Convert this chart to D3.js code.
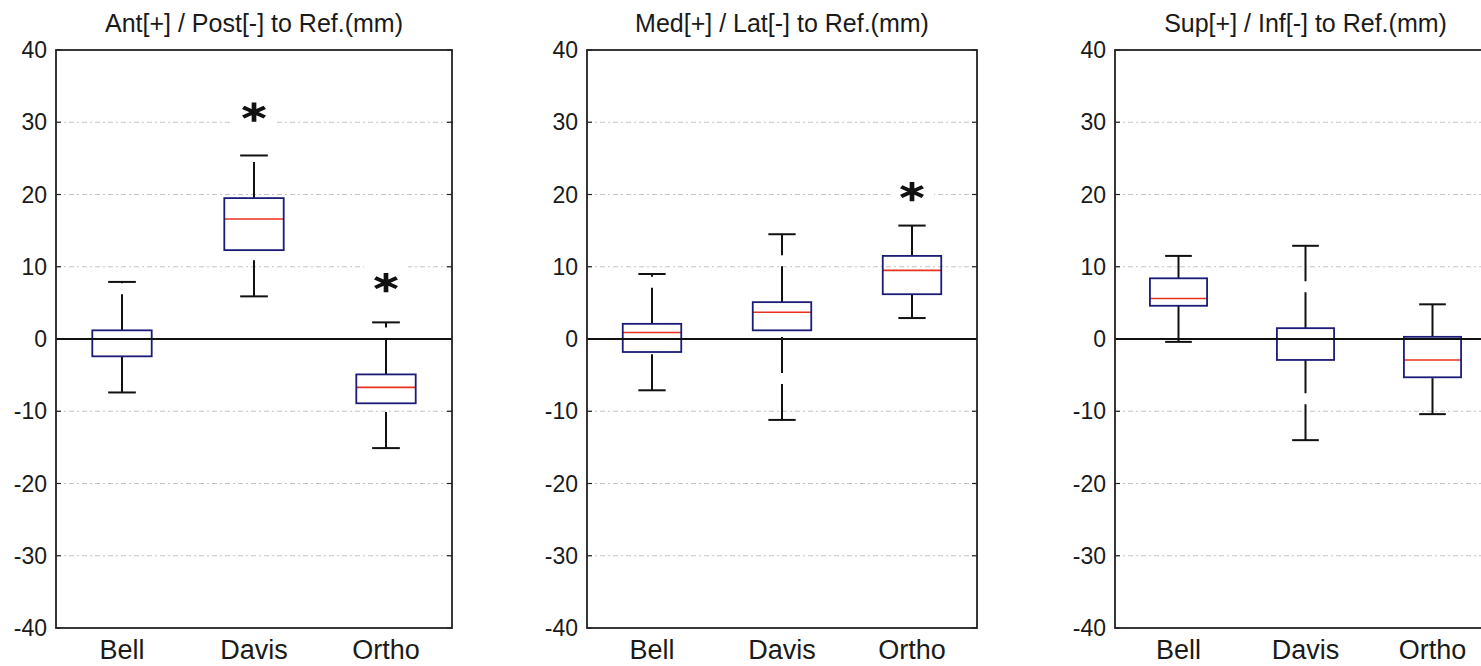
<!DOCTYPE html>
<html>
<head>
<meta charset="utf-8">
<script src="https://cdn.jsdelivr.net/npm/d3@7"></script>
<style>
  html, body { margin: 0; padding: 0; background: #fff; overflow: hidden; }
  svg { display: block; }
  text { font-family: "Liberation Sans", Arial, sans-serif; fill: #1a1a1a; }
</style>
</head>
<body>
<svg id="chart" width="1481" height="666"></svg>
<script>
// ---------- data ----------
const categories = ["Bell", "Davis", "Ortho"];
const panelTitles = ["Ant[+] / Post[-] to Ref.(mm)", "Med[+] / Lat[-] to Ref.(mm)", "Sup[+] / Inf[-] to Ref.(mm)"];
const yTicks = [-40, -30, -20, -10, 0, 10, 20, 30, 40];
const gridTicks = [-30, -20, -10, 10, 20, 30];

// Panel 1: Ant/Post
const apLower  = [-7.4,  5.9, -15.1];
const apQ1     = [-2.4, 12.3,  -8.9];
const apMedian = [ 0.0, 16.6,  -6.7];
const apQ3     = [ 1.2, 19.5,  -4.9];
const apUpper  = [ 7.9, 25.4,   2.3];

// Panel 2: Med/Lat
const mlLower  = [-7.1, -11.2,  2.9];
const mlQ1     = [-1.8,   1.2,  6.2];
const mlMedian = [ 0.9,   3.7,  9.5];
const mlQ3     = [ 2.1,   5.1, 11.5];
const mlUpper  = [ 9.0,  14.5, 15.7];

// Panel 3: Sup/Inf
const siLower  = [-0.4, -14.0, -10.4];
const siQ1     = [ 4.6,  -2.9,  -5.3];
const siMedian = [ 5.6,   0.0,  -2.9];
const siQ3     = [ 8.4,   1.5,   0.3];
const siUpper  = [11.5,  12.9,   4.8];

// significance markers: [panel index, category, y value]
const starPanel    = [0, 0, 1];
const starCategory = ["Davis", "Ortho", "Ortho"];
const starValue    = [31.4, 7.8, 20.4];

// ---------- layout ----------
const panels = [
  { left: 56,   right: 452,  lower: apLower, q1: apQ1, median: apMedian, q3: apQ3, upper: apUpper },
  { left: 587,  right: 977,  lower: mlLower, q1: mlQ1, median: mlMedian, q3: mlQ3, upper: mlUpper },
  { left: 1115, right: 1496, lower: siLower, q1: siQ1, median: siMedian, q3: siQ3, upper: siUpper }
];
const plotTop = 50, plotBottom = 628;
const boxW = 0.45, capW = 0.21;

const svg = d3.select("#chart");
const y = d3.scaleLinear().domain([-40, 40]).range([plotBottom, plotTop]);

panels.forEach((p, pi) => {
  const x = d3.scaleLinear().domain([0.5, 3.5]).range([p.left, p.right]);
  const unit = x(1) - x(0);
  const g = svg.append("g");

  // grid
  g.selectAll(".grid").data(gridTicks).enter().append("line")
    .attr("x1", p.left).attr("x2", p.right)
    .attr("y1", d => y(d)).attr("y2", d => y(d))
    .attr("stroke", "#c4c4c4").attr("stroke-width", 1.2)
    .attr("stroke-dasharray", "5,3,2,3");

  // inner ticks both sides
  g.selectAll(".tl").data(yTicks).enter().append("line")
    .attr("x1", p.left).attr("x2", p.left + 5)
    .attr("y1", d => y(d)).attr("y2", d => y(d))
    .attr("stroke", "#222").attr("stroke-width", 1.2);
  g.selectAll(".tr").data(yTicks).enter().append("line")
    .attr("x1", p.right - 5).attr("x2", p.right)
    .attr("y1", d => y(d)).attr("y2", d => y(d))
    .attr("stroke", "#222").attr("stroke-width", 1.2);

  // y tick labels
  g.selectAll(".yl").data(yTicks).enter().append("text")
    .attr("x", p.left - 9).attr("y", d => y(d))
    .attr("text-anchor", "end").attr("dominant-baseline", "central")
    .style("font-size", "23px")
    .text(d => d);

  // category labels
  g.selectAll(".cl").data(categories).enter().append("text")
    .attr("x", (d, i) => x(i + 1)).attr("y", plotBottom + 31)
    .attr("text-anchor", "middle")
    .style("font-size", "27px")
    .text(d => d);

  // title
  g.append("text")
    .attr("x", (p.left + p.right) / 2).attr("y", 32)
    .attr("text-anchor", "middle")
    .style("font-size", "25px")
    .text(panelTitles[pi]);

  const idx = [0, 1, 2];
  // whiskers (dashed), drawn bottom-to-top
  g.selectAll(".wu").data(idx).enter().append("line")
    .attr("x1", i => x(i + 1)).attr("x2", i => x(i + 1))
    .attr("y1", i => y(p.q3[i])).attr("y2", i => y(p.upper[i]))
    .attr("stroke", "#111").attr("stroke-width", 2)
    .attr("stroke-dasharray", "36,11");
  g.selectAll(".wl").data(idx).enter().append("line")
    .attr("x1", i => x(i + 1)).attr("x2", i => x(i + 1))
    .attr("y1", i => y(p.lower[i])).attr("y2", i => y(p.q1[i]))
    .attr("stroke", "#111").attr("stroke-width", 2)
    .attr("stroke-dasharray", "36,11");
  // caps
  ["upper", "lower"].forEach(k => {
    g.selectAll(".cap" + k).data(idx).enter().append("line")
      .attr("x1", i => x(i + 1 - capW / 2)).attr("x2", i => x(i + 1 + capW / 2))
      .attr("y1", i => y(p[k][i])).attr("y2", i => y(p[k][i]))
      .attr("stroke", "#111").attr("stroke-width", 2);
  });
  // medians
  g.selectAll(".med").data(idx).enter().append("line")
    .attr("x1", i => x(i + 1 - boxW / 2)).attr("x2", i => x(i + 1 + boxW / 2))
    .attr("y1", i => y(p.median[i])).attr("y2", i => y(p.median[i]))
    .attr("stroke", "#e8311f").attr("stroke-width", 1.6);
  // boxes
  g.selectAll(".box").data(idx).enter().append("rect")
    .attr("x", i => x(i + 1 - boxW / 2))
    .attr("width", unit * boxW)
    .attr("y", i => y(p.q3[i]))
    .attr("height", i => y(p.q1[i]) - y(p.q3[i]))
    .attr("fill", "none").attr("stroke", "#1c1c78").attr("stroke-width", 1.8);

  // zero line
  g.append("line")
    .attr("x1", p.left).attr("x2", p.right)
    .attr("y1", y(0)).attr("y2", y(0))
    .attr("stroke", "#111").attr("stroke-width", 1.8);

  // frame
  g.append("rect")
    .attr("x", p.left).attr("y", plotTop)
    .attr("width", p.right - p.left).attr("height", plotBottom - plotTop)
    .attr("fill", "none").attr("stroke", "#222").attr("stroke-width", 1.8);

  // significance stars
  const stars = starPanel.map((sp, k) => ({ sp, cat: starCategory[k], v: starValue[k] })).filter(s => s.sp === pi);
  const sg = g.selectAll(".star").data(stars).enter().append("g")
    .attr("transform", s => `translate(${x(categories.indexOf(s.cat) + 1)},${y(s.v)})`);
  sg.append("rect")
    .attr("x", -22).attr("y", -22).attr("width", 44).attr("height", 40)
    .attr("fill", "#fff");
  sg.append("path")
    .attr("d", d3.symbol().type(d3.symbolAsterisk).size(260))
    .attr("transform", "scale(1.3,1)")
    .attr("fill", "none").attr("stroke", "#111").attr("stroke-width", 3.6);
});
</script>
</body>
</html>
